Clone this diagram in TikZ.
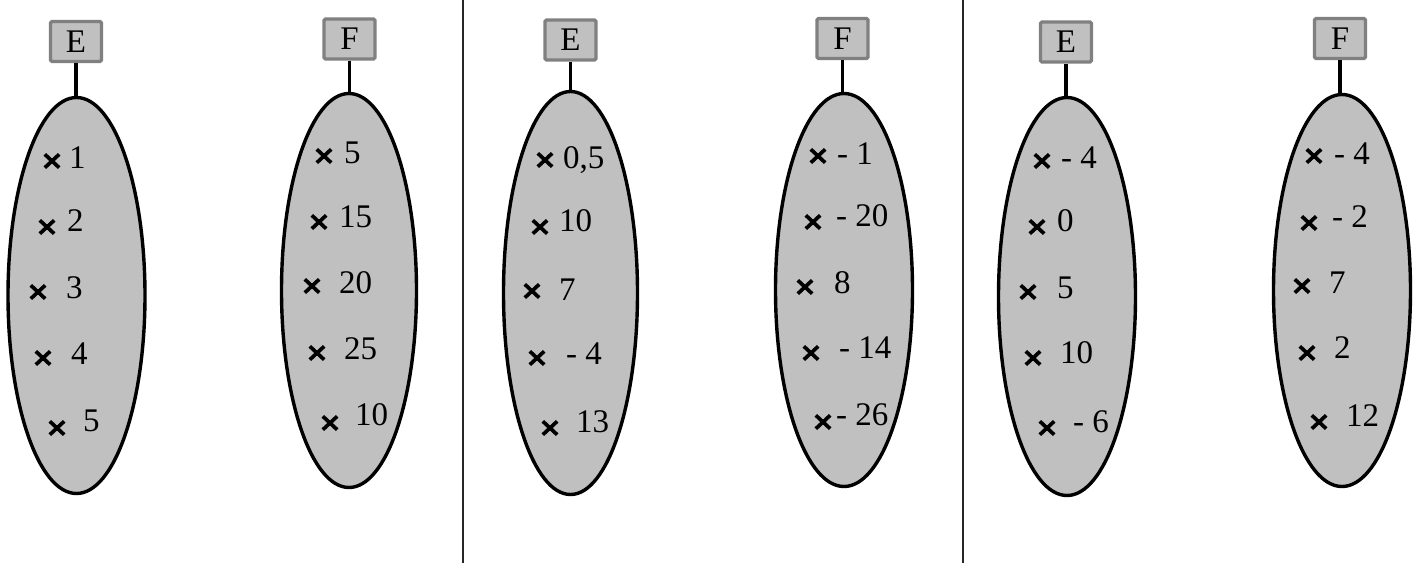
\documentclass[tikz,border=0pt]{standalone}
\usepackage{fontspec}
\setmainfont{Liberation Serif}
\usetikzlibrary{shapes.geometric}
\definecolor{fillgray}{HTML}{C0C0C0}
\definecolor{boxedge}{HTML}{808080}
\tikzset{
  setbox/.style={shape=ellipse, draw=black, fill=fillgray, line width=3.4pt, inner sep=0pt},
  labelbox/.style={shape=rectangle, draw=boxedge, fill=fillgray, line width=3.4pt, rounded corners=1.5pt,
    minimum width=51pt, minimum height=40pt, inner sep=0pt, font=\fontsize{33}{39}\selectfont},
  stem/.style={draw=black, line width=3.2pt},
  crossnode/.style={shape=rectangle, minimum width=14pt, minimum height=13pt, inner sep=0pt, draw=none},
  crossline/.style={draw=black, line width=3.7pt},
  valtext/.style={anchor=base west, inner sep=0pt, font=\fontsize{33}{39}\selectfont},
  divider/.style={draw=black!85, line width=1.1pt}
}
\newcommand\mkitem[6]{%
  \node[crossnode] (#1) at (#2,#3) {};
  \draw[crossline] (#1.north west) -- (#1.south east) (#1.north east) -- (#1.south west);
  \node[valtext] (#1t) at (#4,#5) {#6};
}
\newcommand\mkset[8]{% name, label, box x, box y, cx, cy, width, height
  \node[labelbox] (#1L) at (#3,#4) {#2};
  \node[setbox, minimum width=#7pt, minimum height=#8pt] (#1S) at (#5,#6) {};
  \draw[stem] (#1L.south) -- (#1L.south |- #1S.north);
}
\begin{document}
\begin{tikzpicture}[x=1pt,y=-1pt]
\useasboundingbox (0,0) rectangle (1417,563);
% dividers
\coordinate (d1t) at (463,0); \coordinate (d1b) at (463,563);
\coordinate (d2t) at (963,0); \coordinate (d2b) at (963,563);
\draw[divider] (d1t) -- (d1b);
\draw[divider] (d2t) -- (d2b);
% sets
\mkset{A}{E}{76}{41.5}{76.5}{295.5}{137}{396}
\mkset{B}{F}{349.5}{39}{349}{290.5}{135}{394}
\mkset{C}{E}{570.5}{40}{570.5}{293}{134}{403}
\mkset{D}{F}{842.5}{38.5}{844}{290}{137}{393}
\mkset{G}{E}{1066}{42}{1067}{296.5}{137}{398}
\mkset{H}{F}{1340}{38.5}{1342}{290.5}{137}{392}
% panel 1 E
\mkitem{a1}{52}{161}{69}{168}{1}
\mkitem{a2}{47}{227}{67}{231}{2}
\mkitem{a3}{38}{292}{66}{298}{3}
\mkitem{a4}{43}{358}{71}{364}{4}
\mkitem{a5}{57}{428}{83}{431}{5}
% panel 1 F
\mkitem{b1}{324}{156}{344}{163}{5}
\mkitem{b2}{319}{222}{339}{227}{15}
\mkitem{b3}{312}{286}{339}{293}{20}
\mkitem{b4}{317}{353}{344}{359}{25}
\mkitem{b5}{330}{423}{355}{425}{10}
% panel 2 E
\mkitem{c1}{545}{160}{563}{168}{0,5}
\mkitem{c2}{540}{227}{559}{231}{10}
\mkitem{c3}{532}{291}{559}{300}{7}
\mkitem{c4}{537}{358}{566}{364}{- 4}
\mkitem{c5}{550}{428}{576}{432}{13}
% panel 2 F
\mkitem{d1}{818}{156}{837}{164}{- 1}
\mkitem{d2}{813}{222}{836}{226}{- 20}
\mkitem{d3}{805}{287}{834}{293}{8}
\mkitem{d4}{811}{353}{839}{358}{- 14}
\mkitem{d5}{823}{422}{836}{425}{- 26}
% panel 3 E
\mkitem{e1}{1042}{161}{1061}{168}{- 4}
\mkitem{e2}{1037}{227}{1057}{231}{0}
\mkitem{e3}{1028}{292}{1057}{298}{5}
\mkitem{e4}{1033}{358}{1060}{363}{10}
\mkitem{e5}{1047}{428}{1073}{432}{- 6}
% panel 3 F
\mkitem{f1}{1314}{156}{1334}{164}{- 4}
\mkitem{f2}{1309}{223}{1332}{227}{- 2}
\mkitem{f3}{1302}{286}{1329}{293}{7}
\mkitem{f4}{1307}{353}{1334}{358}{2}
\mkitem{f5}{1319}{422}{1346}{426}{12}
\end{tikzpicture}
\end{document}
